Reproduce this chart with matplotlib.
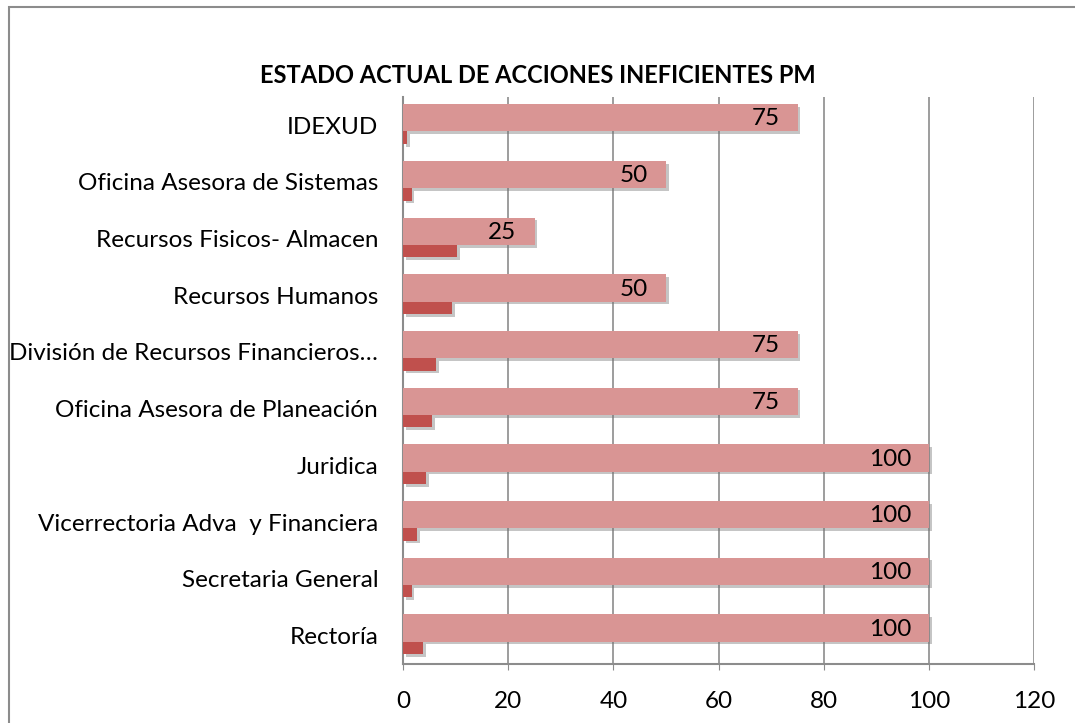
import matplotlib
matplotlib.use('Agg')
import numpy as np
import matplotlib.pyplot as plt
import matplotlib.patheffects as pe
from matplotlib.patches import Rectangle

plt.rcParams['font.family'] = ['Lato', 'DejaVu Sans']

# bottom to top, as the axis draws them
categories = ['Rectoría', 'Secretaria General', 'Vicerrectoria Adva  y Financiera',
              'Juridica', 'Oficina Asesora de Planeación',
              'División de Recursos Financieros…', 'Recursos Humanos',
              'Recursos Fisicos- Almacen', 'Oficina Asesora de Sistemas', 'IDEXUD']
estado = [100, 100, 100, 100, 75, 75, 50, 25, 50, 75]
acciones = [3.8, 1.6, 2.7, 4.4, 5.5, 6.3, 9.3, 10.3, 1.6, 0.7]
x_ticks = [0, 20, 40, 60, 80, 100, 120]

pink = '#d99594'
dark = '#c0504d'
grid_c = '#8c8c8c'
fs = 17.5

fig = plt.figure(figsize=(10.75, 7.23), dpi=100)
ax = fig.add_axes([0.375, 0.082, 0.587, 0.784])

y = np.arange(len(categories))
shadow = [pe.SimplePatchShadow(offset=(2, -2), shadow_rgbFace='#707070', alpha=0.4), pe.Normal()]

b1 = ax.barh(y + 0.13, estado, height=0.48, color=pink, zorder=3)
b2 = ax.barh(y - 0.22, acciones, height=0.22, color=dark, zorder=3)
for p in list(b1) + list(b2):
    p.set_path_effects(shadow)

for yi, v in zip(y, estado):
    ax.annotate(str(v), (v, yi + 0.11), xytext=(-18, 0), textcoords='offset pixels',
                ha='right', va='center', fontsize=fs, color='black', zorder=5)

ax.set_xlim(0, 120)
ax.set_ylim(-0.5, len(categories) - 0.5)
ax.set_xticks(x_ticks)
ax.set_xticklabels([str(t) for t in x_ticks], fontsize=fs)
ax.set_yticks(y)
ax.set_yticklabels(categories, fontsize=fs)
ax.tick_params(axis='y', length=0, pad=18)
ax.tick_params(axis='x', length=4, color=grid_c, pad=16)
ax.grid(axis='x', color=grid_c, linewidth=1.2, zorder=1)
ax.set_axisbelow(True)
for s in ['top', 'right']:
    ax.spines[s].set_visible(False)
for s in ['left', 'bottom']:
    ax.spines[s].set_color(grid_c)
    ax.spines[s].set_linewidth(1.5)

fig.text(0.5, 0.896, 'ESTADO ACTUAL DE ACCIONES INEFICIENTES PM', ha='center', va='center',
         fontsize=17, fontweight='bold')

# outer chart frame
fig.patches.append(Rectangle((9 / 1075, -0.1), 1.2, 1 - 7 / 723 + 0.1, transform=fig.transFigure,
                             fill=False, edgecolor='#8c8c8c', linewidth=1.5))

fig.savefig('out.png', dpi=100)
